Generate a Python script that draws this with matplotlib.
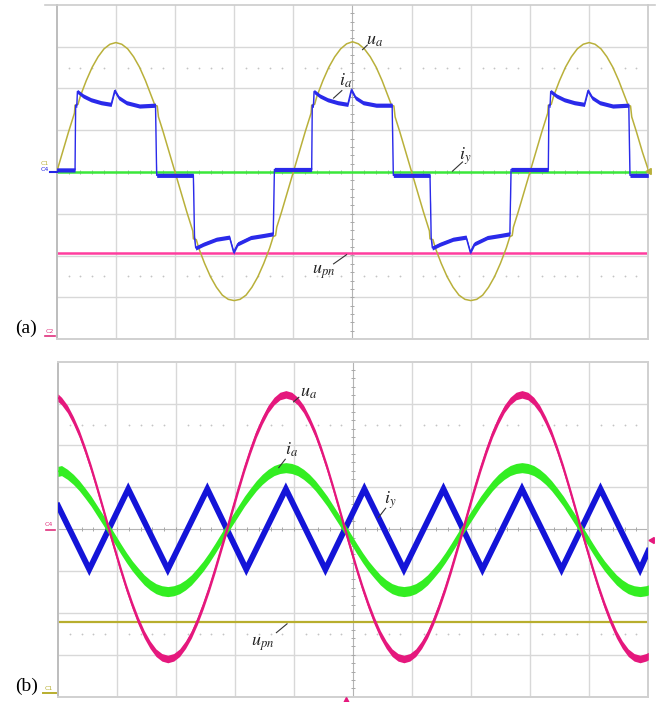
import numpy as np
import matplotlib
matplotlib.use('Agg')
import matplotlib.pyplot as plt
from matplotlib.lines import Line2D

plt.rcParams['mathtext.fontset'] = 'stix'

# ---------------- data (screen divisions: x 0..10, y -4..4) ----------------
# Panel (a): phase voltage u_a (with commutation notches)
a_ua_x = [0.0, 0.1, 0.2, 0.3, 0.31, 0.36, 0.4, 0.5, 0.6, 0.7, 0.8, 0.9, 1.0, 1.1, 1.2, 1.3, 1.4, 1.5, 1.6,
          1.66, 1.70, 1.72, 1.8, 1.9,
          2.0, 2.1, 2.2, 2.3, 2.31, 2.36, 2.4, 2.5, 2.6, 2.7, 2.8, 2.9, 3.0, 3.1, 3.2, 3.3, 3.4, 3.5, 3.6,
          3.66, 3.70, 3.72, 3.8, 3.9,
          4.0, 4.1, 4.2, 4.3, 4.31, 4.36, 4.4, 4.5, 4.6, 4.7, 4.8, 4.9, 5.0, 5.1, 5.2, 5.3, 5.4, 5.5, 5.6,
          5.66, 5.70, 5.72, 5.8, 5.9,
          6.0, 6.1, 6.2, 6.3, 6.31, 6.36, 6.4, 6.5, 6.6, 6.7, 6.8, 6.9, 7.0, 7.1, 7.2, 7.3, 7.4, 7.5, 7.6,
          7.66, 7.70, 7.72, 7.8, 7.9,
          8.0, 8.1, 8.2, 8.3, 8.31, 8.36, 8.4, 8.5, 8.6, 8.7, 8.8, 8.9, 9.0, 9.1, 9.2, 9.3, 9.4, 9.5, 9.6,
          9.66, 9.70, 9.72, 9.8, 9.9, 10.0]
a_ua_y = [0.0, 0.48, 0.96, 1.41, 1.60, 1.62, 1.82, 2.19, 2.51, 2.76, 2.95, 3.06, 3.10, 3.06, 2.95, 2.76, 2.51, 2.19, 1.82,
          1.60, 1.58, 1.32, 0.96, 0.48,
          0.0, -0.48, -0.96, -1.41, -1.60, -1.62, -1.82, -2.19, -2.51, -2.76, -2.95, -3.05, -3.08, -3.05, -2.95, -2.76, -2.51, -2.19, -1.82,
          -1.55, -1.52, -1.32, -0.96, -0.48,
          0.0, 0.48, 0.96, 1.41, 1.60, 1.62, 1.82, 2.19, 2.51, 2.76, 2.95, 3.07, 3.12, 3.07, 2.95, 2.76, 2.51, 2.19, 1.82,
          1.60, 1.58, 1.32, 0.96, 0.48,
          0.0, -0.48, -0.96, -1.41, -1.60, -1.62, -1.82, -2.19, -2.51, -2.76, -2.95, -3.05, -3.08, -3.05, -2.95, -2.76, -2.51, -2.19, -1.82,
          -1.55, -1.52, -1.32, -0.96, -0.48,
          0.0, 0.48, 0.96, 1.41, 1.60, 1.62, 1.82, 2.19, 2.51, 2.76, 2.95, 3.06, 3.10, 3.06, 2.95, 2.76, 2.51, 2.19, 1.82,
          1.60, 1.58, 1.32, 0.96, 0.48, 0.05]

# Panel (a): phase current i_a (quasi-square with spikes)
a_ia_x = [0.0, 0.31, 0.32, 0.34, 0.35, 0.45, 0.58, 0.75, 0.92, 0.98, 1.05, 1.18, 1.40, 1.67, 1.69,
          2.31, 2.33, 2.35, 2.48, 2.70, 2.92, 2.99, 3.06, 3.28, 3.50, 3.66, 3.68,
          4.31, 4.32, 4.34, 4.35, 4.45, 4.58, 4.75, 4.92, 4.98, 5.05, 5.18, 5.40, 5.67, 5.69,
          6.31, 6.33, 6.35, 6.48, 6.70, 6.92, 6.99, 7.06, 7.28, 7.50, 7.66, 7.68,
          8.31, 8.32, 8.34, 8.35, 8.45, 8.58, 8.75, 8.92, 8.98, 9.05, 9.18, 9.40, 9.67, 9.69, 10.0]
a_ia_y = [0.05, 0.05, 1.60, 1.60, 1.93, 1.82, 1.73, 1.66, 1.62, 1.95, 1.78, 1.66, 1.58, 1.60, -0.08,
          -0.08, -1.58, -1.82, -1.73, -1.61, -1.56, -1.92, -1.72, -1.57, -1.52, -1.48, 0.06,
          0.06, 1.60, 1.60, 1.93, 1.82, 1.73, 1.66, 1.62, 1.97, 1.78, 1.66, 1.60, 1.60, -0.08,
          -0.08, -1.58, -1.82, -1.73, -1.61, -1.56, -1.92, -1.72, -1.57, -1.52, -1.48, 0.06,
          0.06, 1.60, 1.60, 1.93, 1.82, 1.73, 1.66, 1.62, 1.95, 1.78, 1.66, 1.58, 1.60, -0.08, -0.08]
a_iy_level = 0.0
a_upn_level = -1.95

# Panel (b)
b_x = [0, 0.06, 0.16, 0.26, 0.36, 0.46, 0.56, 0.66, 0.76, 0.86, 0.96,
       1.06, 1.16, 1.26, 1.36, 1.46, 1.56, 1.66, 1.76, 1.86, 1.96,
       2.06, 2.16, 2.26, 2.36, 2.46, 2.56, 2.66, 2.76, 2.86, 2.96,
       3.06, 3.16, 3.26, 3.36, 3.46, 3.56, 3.66, 3.76, 3.86, 3.96,
       4.06, 4.16, 4.26, 4.36, 4.46, 4.56, 4.66, 4.76, 4.86, 4.96,
       5.06, 5.16, 5.26, 5.36, 5.46, 5.56, 5.66, 5.76, 5.86, 5.96,
       6.06, 6.16, 6.26, 6.36, 6.46, 6.56, 6.66, 6.76, 6.86, 6.96,
       7.06, 7.16, 7.26, 7.36, 7.46, 7.56, 7.66, 7.76, 7.86, 7.96,
       8.06, 8.16, 8.26, 8.36, 8.46, 8.56, 8.66, 8.76, 8.86, 8.96,
       9.06, 9.16, 9.26, 9.36, 9.46, 9.56, 9.66, 9.76, 9.86, 9.96, 10]
b_ua = [3.14, 3.06, 2.87, 2.60, 2.28, 1.89, 1.46, 0.99, 0.50, 0.00, -0.48,
        -0.96, -1.41, -1.82, -2.19, -2.51, -2.76, -2.95, -3.06, -3.10, -3.06,
        -2.95, -2.76, -2.51, -2.19, -1.82, -1.41, -0.96, -0.48, 0.00, 0.50,
        0.99, 1.46, 1.89, 2.28, 2.60, 2.87, 3.06, 3.18, 3.22, 3.18,
        3.06, 2.87, 2.60, 2.28, 1.89, 1.46, 0.99, 0.50, 0.00, -0.48,
        -0.96, -1.41, -1.82, -2.19, -2.51, -2.76, -2.95, -3.06, -3.10, -3.06,
        -2.95, -2.76, -2.51, -2.19, -1.82, -1.41, -0.96, -0.48, 0.00, 0.50,
        0.99, 1.46, 1.89, 2.28, 2.60, 2.87, 3.06, 3.18, 3.22, 3.18,
        3.06, 2.87, 2.60, 2.28, 1.89, 1.46, 0.99, 0.50, 0.00, -0.48,
        -0.96, -1.41, -1.82, -2.19, -2.51, -2.76, -2.95, -3.06, -3.10, -3.06, -3.03]
b_ia = [1.38, 1.40, 1.31, 1.19, 1.04, 0.86, 0.67, 0.45, 0.23, 0.00, -0.23,
        -0.46, -0.68, -0.88, -1.05, -1.21, -1.33, -1.42, -1.47, -1.49, -1.47,
        -1.42, -1.33, -1.21, -1.05, -0.88, -0.68, -0.46, -0.23, 0.00, 0.23,
        0.45, 0.67, 0.86, 1.04, 1.19, 1.31, 1.40, 1.45, 1.47, 1.45,
        1.40, 1.31, 1.19, 1.04, 0.86, 0.67, 0.45, 0.23, 0.00, -0.23,
        -0.46, -0.68, -0.88, -1.05, -1.21, -1.33, -1.42, -1.47, -1.49, -1.47,
        -1.42, -1.33, -1.21, -1.05, -0.88, -0.68, -0.46, -0.23, 0.00, 0.23,
        0.45, 0.67, 0.86, 1.04, 1.19, 1.31, 1.40, 1.45, 1.47, 1.45,
        1.40, 1.31, 1.19, 1.04, 0.86, 0.67, 0.45, 0.23, 0.00, -0.23,
        -0.46, -0.68, -0.88, -1.05, -1.21, -1.33, -1.42, -1.47, -1.49, -1.47, -1.45]
b_iy_x = [0, 0.53, 1.19, 1.86, 2.53, 3.19, 3.86, 4.53, 5.19, 5.86, 6.53, 7.19, 7.86, 8.53, 9.19, 9.86, 10]
b_iy_y = [0.56, -0.96, 0.96, -0.96, 0.96, -0.96, 0.96, -0.96, 0.96, -0.96, 0.96, -0.96, 0.96, -0.96, 0.96, -0.96, -0.52]
b_upn_level = -2.22

# ---------------- figure ----------------
W, H = 669, 702
fig = plt.figure(figsize=(W / 100, H / 100), dpi=100)


def px_axes(l, t, r, b):
    return fig.add_axes([l / W, 1 - b / H, (r - l) / W, (b - t) / H])


GRID = '#d8d8d8'


def scope(ax):
    ax.set_xlim(0, 10)
    ax.set_ylim(-4, 4)
    ax.set_xticks([])
    ax.set_yticks([])
    for v in range(1, 10):
        if v != 5:
            ax.axvline(v, color=GRID, lw=1.0, zorder=0)
    for v in range(-3, 4):
        if v != 0:
            ax.axhline(v, color=GRID, lw=1.0, zorder=0)
    ax.axvline(5, color='#b4b4b4', lw=0.8, zorder=0.5)
    ax.axhline(0, color='#b4b4b4', lw=0.8, zorder=0.5)
    t = np.arange(0.2, 9.9, 0.2)
    ax.plot(t, np.zeros_like(t), ls='none', marker='|', ms=3.5, mew=0.7, color='#a8a8a8', zorder=0.5)
    t = np.arange(-3.8, 3.9, 0.2)
    ax.plot(np.full_like(t, 5), t, ls='none', marker='_', ms=3.5, mew=0.7, color='#a8a8a8', zorder=0.5)
    d = np.array([v for v in np.arange(0.2, 9.9, 0.2) if abs(v - round(v)) > 0.05])
    for yy in (2.5, -2.5):
        ax.plot(d, np.full_like(d, yy), ls='none', marker='o', ms=1.3, mew=0, color='#c4c4c4', zorder=0.5)
    for s in ax.spines.values():
        s.set_color('#d0d0d0')
        s.set_linewidth(1.4)
    ax.spines['left'].set_color('#bdbdbd')


def label(ax, txt, tx, ty, lx0, ly0, lx1, ly1):
    ax.text(tx, ty, txt, fontsize=13, ha='center', va='center', color='#222222', zorder=10)
    ax.plot([lx0, lx1], [ly0, ly1], color='#333333', lw=0.8, zorder=10)


# ----- panel (a) -----
axa = px_axes(56.7, 5, 648.3, 339)
scope(axa)
axa.spines['top'].set_visible(False)
fig.add_artist(Line2D([45 / W, 655 / W], [1 - 4.5 / H, 1 - 4.5 / H], color='#cccccc', lw=1.2))

axa.axhline(a_upn_level, color='#ff3d9e', lw=1.8, zorder=2)
axa.axhline(a_iy_level, color='#3be83b', lw=1.8, zorder=2)
axa.plot(a_ua_x, a_ua_y, color='#b9b03a', lw=1.1, zorder=3)
ia_y = np.array(a_ia_y)
axa.fill_between(a_ia_x, ia_y - 0.05, ia_y + 0.05, color='#2a2aea', lw=0, zorder=4)
axa.plot(a_ia_x, a_ia_y, color='#2a2aea', lw=1.0, zorder=4)

label(axa, r'$u_a$', 5.38, 3.16, 5.25, 3.04, 5.17, 2.93)
label(axa, r'$i_a$', 4.89, 2.19, 4.82, 1.95, 4.68, 1.77)
label(axa, r'$i_y$', 6.90, 0.38, 6.86, 0.24, 6.69, 0.02)
label(axa, r'$u_{pn}$', 4.52, -2.39, 4.68, -2.20, 4.90, -1.98)

# channel markers (a)
axa.plot([-0.12, 0.0], [0.0, 0.0], color='#2424e6', lw=1.5, clip_on=False, zorder=5)
axa.text(-0.2, 0.2, 'C1', fontsize=4.5, color='#b9b03a', ha='center', va='center', clip_on=False)
axa.text(-0.2, 0.05, 'C4', fontsize=4.5, color='#2424e6', ha='center', va='center', clip_on=False)
axa.plot([10.02], [0.03], marker=(3, 0, 90), ms=5, color='#b9b03a', clip_on=False, zorder=5)
axa.text(-0.12, -3.83, 'C2', fontsize=4.5, color='#e0307d', ha='center', va='center', clip_on=False)
axa.plot([-0.2, -0.03], [-3.93, -3.93], color='#e0307d', lw=1.2, clip_on=False)
fig.text(26.5 / W, 1 - 328 / H, '(a)', fontsize=14, family='Liberation Serif', ha='center', va='center')

# ----- panel (b) -----
axb = px_axes(58.0, 361.7, 648.3, 696.7)
scope(axb)

axb.axhline(b_upn_level, color='#b8ae2e', lw=1.6, zorder=2)
axb.plot(b_iy_x, b_iy_y, color='#1414d8', lw=4.2, solid_joinstyle='miter', zorder=3)
bia = np.array(b_ia)
axb.fill_between(b_x, bia - 0.12, bia + 0.12, color='#33ee22', lw=0, zorder=4)
axb.plot(b_x, b_ia, color='#33ee22', lw=1.2, zorder=4)
bua = np.array(b_ua)
axb.fill_between(b_x, bua - 0.09, bua + 0.09, color='#e5187d', lw=0, zorder=5)
axb.plot(b_x, b_ua, color='#e5187d', lw=1.2, zorder=5)

label(axb, r'$u_a$', 4.25, 3.28, 4.08, 3.15, 3.99, 3.04)
label(axb, r'$i_a$', 3.96, 1.89, 3.85, 1.67, 3.74, 1.47)
label(axb, r'$i_y$', 5.62, 0.70, 5.55, 0.50, 5.43, 0.28)
label(axb, r'$u_{pn}$', 3.47, -2.74, 3.70, -2.47, 3.88, -2.26)

axb.text(-0.15, 0.12, 'C4', fontsize=4.5, color='#e0307d', ha='center', va='center', clip_on=False)
axb.plot([-0.2, -0.05], [-0.02, -0.02], color='#e0307d', lw=1.2, clip_on=False)
axb.plot([10.06], [-0.26], marker=(3, 0, 90), ms=5, color='#e5187d', clip_on=False, zorder=5)
axb.plot([4.88], [-4.08], marker='^', ms=4, color='#e5187d', clip_on=False, zorder=5)
axb.text(-0.15, -3.80, 'C1', fontsize=4.5, color='#b8ae2e', ha='center', va='center', clip_on=False)
axb.plot([-0.25, -0.03], [-3.92, -3.92], color='#b8ae2e', lw=1.4, clip_on=False)
fig.text(27 / W, 1 - 686 / H, '(b)', fontsize=14, family='Liberation Serif', ha='center', va='center')

fig.savefig('out.png', dpi=100)
